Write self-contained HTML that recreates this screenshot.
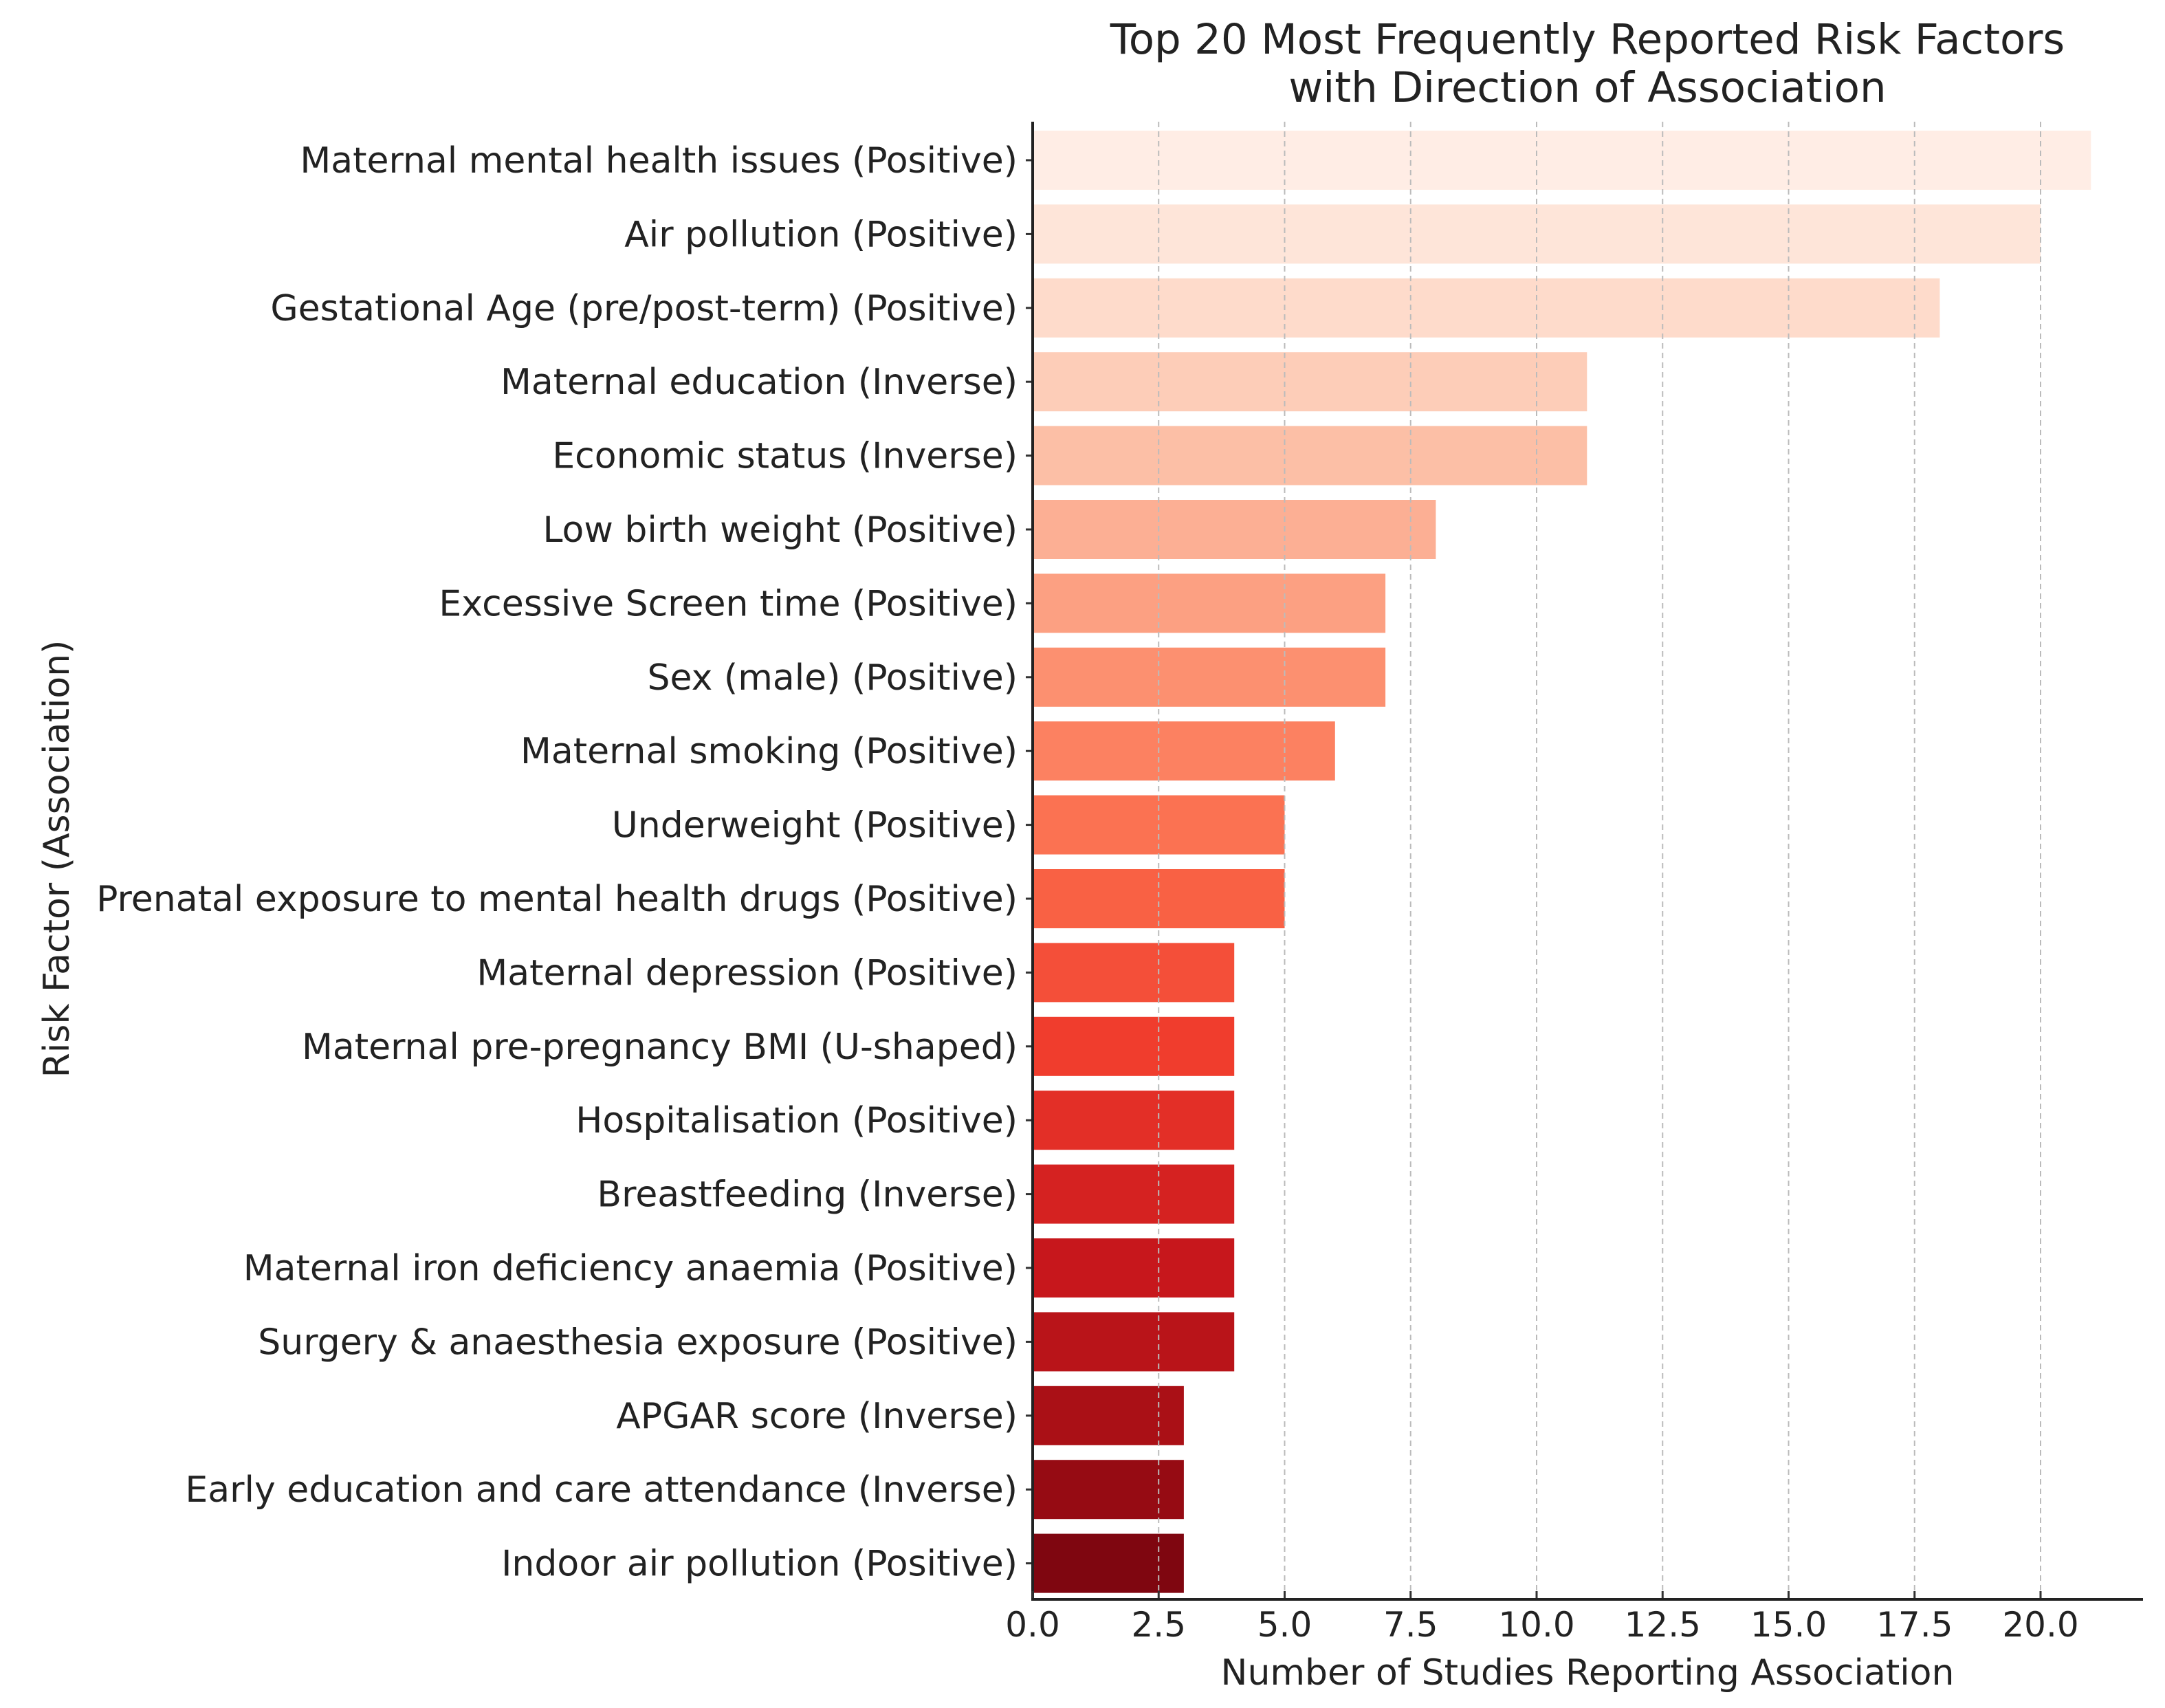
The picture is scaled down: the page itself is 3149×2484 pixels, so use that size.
<!DOCTYPE html>
<html><head><meta charset="utf-8"><style>
html,body{margin:0;padding:0;background:#fff;}
svg{display:block;font-family:"DejaVu Sans","Liberation Sans",sans-serif;}
</style></head><body>
<svg id="chart" width="3149" height="2484" viewBox="0 0 3149 2484">
<text x="2309" y="78" font-size="61" text-anchor="middle" fill="#222">Top 20 Most Frequently Reported Risk Factors</text>
<text x="2309" y="148" font-size="61" text-anchor="middle" fill="#222">with Direction of Association</text>
<g id="bars"></g>
<g id="grid"></g>
<g id="yaxis"></g>
<g id="xaxis"></g>
<text x="2309" y="2450" font-size="52" text-anchor="middle" fill="#222">Number of Studies Reporting Association</text>
<text transform="translate(100,1249) rotate(-90)" font-size="52" text-anchor="middle" fill="#222">Risk Factor (Association)</text>
</svg>
<script>
const categories = ["Maternal mental health issues (Positive)","Air pollution (Positive)","Gestational Age (pre/post-term) (Positive)","Maternal education (Inverse)","Economic status (Inverse)","Low birth weight (Positive)","Excessive Screen time (Positive)","Sex (male) (Positive)","Maternal smoking (Positive)","Underweight (Positive)","Prenatal exposure to mental health drugs (Positive)","Maternal depression (Positive)","Maternal pre-pregnancy BMI (U-shaped)","Hospitalisation (Positive)","Breastfeeding (Inverse)","Maternal iron deficiency anaemia (Positive)","Surgery & anaesthesia exposure (Positive)","APGAR score (Inverse)","Early education and care attendance (Inverse)","Indoor air pollution (Positive)"];
const values = [21,20,18,11,11,8,7,7,6,5,5,4,4,4,4,4,4,3,3,3];
const xTicks = [0,2.5,5,7.5,10,12.5,15,17.5,20];
const xTickLabels = ["0.0","2.5","5.0","7.5","10.0","12.5","15.0","17.5","20.0"];

const NS="http://www.w3.org/2000/svg";
const x0=1502, pxPerUnit=73.3, yTop=233, step=107.4, barH=86, axisBottom=2326, axisTop=177, axisRight=3117;
const xScale=v=>x0+v*pxPerUnit;
const yScale=i=>yTop+i*step;
const stops=["#fff5f0","#fee0d2","#fcbba1","#fc9272","#fb6a4a","#ef3b2c","#cb181d","#a50f15","#67000d"];
function hex(h){return [1,3,5].map(i=>parseInt(h.substr(i,2),16));}
function reds(t){const p=t*(stops.length-1);const i=Math.min(Math.floor(p),stops.length-2);const f=p-i;const a=hex(stops[i]),b=hex(stops[i+1]);return "rgb("+a.map((c,k)=>Math.round(c+(b[k]-c)*f)).join(",")+")";}
function mk(tag,attrs,parent){const e=document.createElementNS(NS,tag);for(const k in attrs)e.setAttribute(k,attrs[k]);parent.appendChild(e);return e;}
const gb=document.getElementById('bars'),gg=document.getElementById('grid'),gy=document.getElementById('yaxis'),gx=document.getElementById('xaxis');
const n=categories.length;
categories.forEach((c,i)=>{
  const t=(i+1)/(n+1);
  const r=mk('rect',{x:x0,y:yScale(i)-barH/2,width:xScale(values[i])-x0,height:barH,fill:reds(t)},gb);
  
  
  const lb=mk('text',{x:x0-22,y:yScale(i)+18,'font-size':52,'text-anchor':'end',fill:'#222'},gy);
  lb.textContent=c;
  
  
  mk('line',{x1:x0-10,x2:x0,y1:yScale(i),y2:yScale(i),stroke:'#333','stroke-width':3},gy);
});
xTicks.forEach((v,i)=>{
  if(v>0){const gl=mk('line',{x1:xScale(v),x2:xScale(v),y1:axisTop,y2:axisBottom,stroke:'#bbb','stroke-width':2,'stroke-dasharray':'8,6'},gg);
  
  }
  mk('line',{x1:xScale(v),x2:xScale(v),y1:axisBottom-12,y2:axisBottom,stroke:'#333','stroke-width':3},gx);
  const tl=mk('text',{x:xScale(v),y:axisBottom+54,'font-size':50,'text-anchor':'middle',fill:'#222'},gx);
  tl.textContent=xTickLabels[i];
  
  
});
const ya=mk('line',{x1:x0,x2:x0,y1:axisTop,y2:axisBottom+2,stroke:'#222','stroke-width':4},gy);


const xa=mk('line',{x1:x0-2,x2:axisRight,y1:axisBottom,y2:axisBottom,stroke:'#222','stroke-width':4},gx);


</script>
</body></html>
